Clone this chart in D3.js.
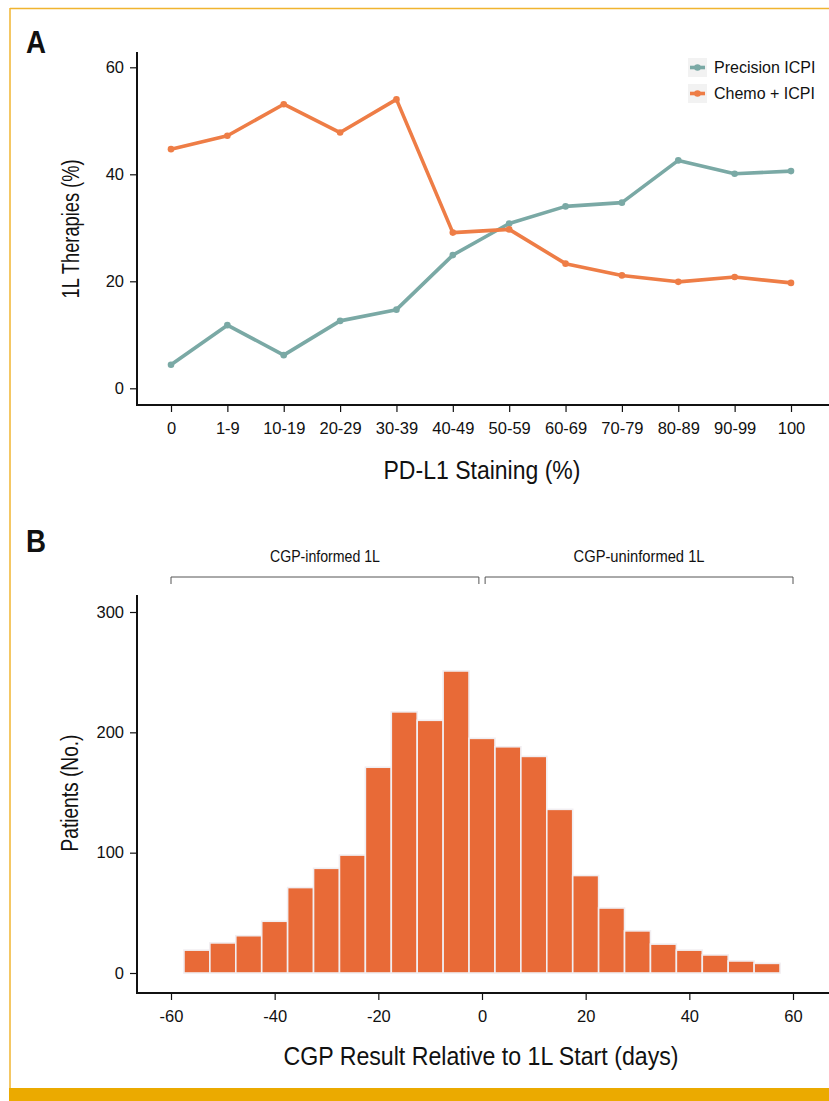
<!DOCTYPE html>
<html>
<head>
<meta charset="utf-8">
<script src="https://cdn.jsdelivr.net/npm/d3@7"></script>
<style>
  body { margin: 0; background: #fff; }
  text { font-family: "Liberation Sans", Arial, sans-serif; fill: #111; }
</style>
</head>
<body>
<script>
var width = 829, height = 1101;

// panel A
var categories = ["0", "1-9", "10-19", "20-29", "30-39", "40-49", "50-59", "60-69", "70-79", "80-89", "90-99", "100"];
var precisionICPI = [4.4, 11.8, 6.2, 12.6, 14.7, 24.9, 30.8, 34.0, 34.7, 42.6, 40.1, 40.6];
var chemoICPI = [44.7, 47.2, 53.1, 47.8, 54.0, 29.1, 29.7, 23.3, 21.1, 19.9, 20.8, 19.7];
var seriesNames = ["Precision ICPI", "Chemo + ICPI"];
var seriesColors = ["#7aa9a5", "#ee7d46"];
var yTicksA = [0, 20, 40, 60];

// panel B
var binCenters = [-55, -50, -45, -40, -35, -30, -25, -20, -15, -10, -5, 0, 5, 10, 15, 20, 25, 30, 35, 40, 45, 50, 55];
var patientCounts = [19, 25, 31, 43, 71, 87, 98, 171, 217, 210, 251, 195, 188, 180, 136, 81, 54, 35, 24, 19, 15, 10, 8];
var xTicksB = [-60, -40, -20, 0, 20, 40, 60];
var yTicksB = [0, 100, 200, 300];
var brackets = [["CGP-informed 1L", -60, -0.6, 110], ["CGP-uninformed 1L", 0.6, 60, 131]];

var svg = d3.select("body").append("svg")
    .attr("width", width)
    .attr("height", height);

// condensed look: no narrow face installed, so squeeze the glyphs
function squeeze(sel, len) {
  sel.attr("textLength", len).attr("lengthAdjust", "spacingAndGlyphs");
}

function styleAxis(g) {
  g.select(".domain").remove();
  g.selectAll("line").attr("stroke", "#111").attr("stroke-width", 1.2);
  g.selectAll("text").style("font-size", "16.5px").attr("fill", "#111")
    .style("font-family", "Liberation Sans, Arial, sans-serif");
}

// gold frame
svg.append("line").attr("x1", 10).attr("x2", width).attr("y1", 8.5).attr("y2", 8.5)
    .attr("stroke", "#f0b430").attr("stroke-width", 1.5);
svg.append("line").attr("x1", 10).attr("x2", 10).attr("y1", 8).attr("y2", 1088)
    .attr("stroke", "#f0b430").attr("stroke-width", 1.5);
svg.append("rect").attr("x", 9).attr("y", 1088).attr("width", width).attr("height", 13)
    .attr("fill", "#ebaa00");

// ---------- panel A ----------
var xA = d3.scalePoint().domain(categories).range([171, 791]);
var yA = d3.scaleLinear().domain([0, 60]).range([388.3, 67.3]);

svg.append("text").attr("x", 26).attr("y", 53)
    .style("font-size", "31px").style("font-weight", "bold").text("A")
    .call(squeeze, 20);

var gA = svg.append("g");
gA.append("line").attr("x1", 137).attr("x2", 137).attr("y1", 52).attr("y2", 405)
    .attr("stroke", "#111").attr("stroke-width", 2);
gA.append("line").attr("x1", 136).attr("x2", width).attr("y1", 405).attr("y2", 405)
    .attr("stroke", "#111").attr("stroke-width", 2);

gA.append("g").attr("transform", "translate(137,0)")
    .call(d3.axisLeft(yA).tickValues(yTicksA).tickSize(7).tickPadding(6))
    .call(styleAxis);

gA.append("g").attr("transform", "translate(0,405)")
    .call(d3.axisBottom(xA).tickSize(7).tickPadding(10))
    .call(styleAxis);

svg.append("text").attr("x", 482).attr("y", 479)
    .attr("text-anchor", "middle").style("font-size", "26px").text("PD-L1 Staining (%)")
    .call(squeeze, 197);
svg.append("text").attr("transform", "translate(79,229) rotate(-90)")
    .attr("text-anchor", "middle").style("font-size", "23px").text("1L Therapies (%)")
    .call(squeeze, 139);

var lineA = d3.line()
    .x(function(d, i){ return xA(categories[i]); })
    .y(function(d){ return yA(d); });

[precisionICPI, chemoICPI].forEach(function(vals, k){
  gA.append("path").datum(vals)
    .attr("d", lineA)
    .attr("fill", "none")
    .attr("stroke", seriesColors[k])
    .attr("stroke-width", 3.6)
    .attr("stroke-linejoin", "round");
  gA.selectAll(".pt" + k).data(vals).enter().append("circle")
    .attr("cx", function(d, i){ return xA(categories[i]); })
    .attr("cy", function(d){ return yA(d); })
    .attr("r", 3.3)
    .attr("fill", seriesColors[k]);
});

// legend
var leg = svg.append("g");
seriesNames.forEach(function(name, k){
  var ly = 67.5 + k * 26;
  leg.append("rect").attr("x", 688).attr("y", ly - 9.5).attr("width", 19).attr("height", 19)
    .attr("fill", "#f2f2f2");
  leg.append("line").attr("x1", 690).attr("x2", 705).attr("y1", ly).attr("y2", ly)
    .attr("stroke", seriesColors[k]).attr("stroke-width", 3.6);
  leg.append("circle").attr("cx", 697.5).attr("cy", ly).attr("r", 3.3).attr("fill", seriesColors[k]);
  leg.append("text").attr("x", 714).attr("y", ly + 5.5).style("font-size", "16px").text(name);
});

// ---------- panel B ----------
var xB = d3.scaleLinear().domain([-60, 60]).range([171, 793]);
var yB = d3.scaleLinear().domain([0, 300]).range([973, 612]);

svg.append("text").attr("x", 26).attr("y", 552)
    .style("font-size", "31px").style("font-weight", "bold").text("B")
    .call(squeeze, 20);

var gB = svg.append("g");

brackets.forEach(function(b){
  var x0 = xB(b[1]), x1 = xB(b[2]);
  gB.append("path")
    .attr("d", "M" + x0 + ",584V577H" + x1 + "V584")
    .attr("fill", "none").attr("stroke", "#555").attr("stroke-width", 1);
  gB.append("text")
    .attr("x", (x0 + x1) / 2).attr("y", 562)
    .attr("text-anchor", "middle").style("font-size", "17px").text(b[0])
    .call(squeeze, b[3]);
});

gB.selectAll("rect.bar").data(patientCounts).enter().append("rect")
    .attr("class", "bar")
    .attr("x", function(d, i){ return xB(binCenters[i] - 2.5); })
    .attr("width", function(d, i){ return xB(binCenters[i] + 2.5) - xB(binCenters[i] - 2.5); })
    .attr("y", function(d){ return yB(d); })
    .attr("height", function(d){ return yB(0) - yB(d); })
    .attr("fill", "#e86a37")
    .attr("stroke", "#f1eef1")
    .attr("stroke-width", 1.6);

gB.append("line").attr("x1", 137).attr("x2", 137).attr("y1", 595).attr("y2", 993)
    .attr("stroke", "#111").attr("stroke-width", 2);
gB.append("line").attr("x1", 136).attr("x2", width).attr("y1", 993).attr("y2", 993)
    .attr("stroke", "#111").attr("stroke-width", 2);

gB.append("g").attr("transform", "translate(137,0)")
    .call(d3.axisLeft(yB).tickValues(yTicksB).tickSize(7).tickPadding(6))
    .call(styleAxis);

gB.append("g").attr("transform", "translate(0,993)")
    .call(d3.axisBottom(xB).tickValues(xTicksB).tickSize(7).tickPadding(10)
      .tickFormat(function(d){ return String(d); }))
    .call(styleAxis);

svg.append("text").attr("x", 481).attr("y", 1065)
    .attr("text-anchor", "middle").style("font-size", "26px")
    .text("CGP Result Relative to 1L Start (days)")
    .call(squeeze, 395);
svg.append("text").attr("transform", "translate(78,793) rotate(-90)")
    .attr("text-anchor", "middle").style("font-size", "23px").text("Patients (No.)")
    .call(squeeze, 117);
</script>
</body>
</html>
